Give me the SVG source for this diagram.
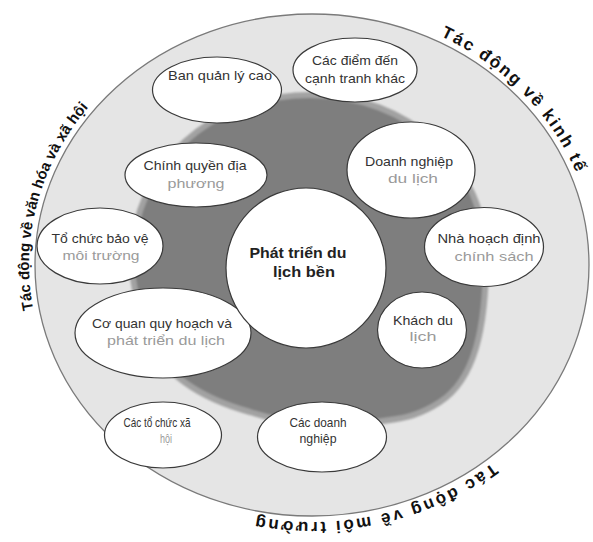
<svg xmlns="http://www.w3.org/2000/svg" width="593" height="542" viewBox="0 0 593 542">
<defs>
<style>
.node{fill:#fff;stroke:#3a3a3a;stroke-width:1.2}
.t{font-family:"Liberation Sans",Arial,sans-serif;font-size:13.5px;fill:#333;text-anchor:middle}
.g{fill:#9a9a9a}
.c{font-family:"Liberation Sans",Arial,sans-serif;font-size:15px;font-weight:bold;fill:#222;text-anchor:middle}
.arc{font-family:"Liberation Sans",Arial,sans-serif;font-weight:bold;fill:#111}
</style>
<filter id="soft" x="-10%" y="-10%" width="120%" height="120%"><feGaussianBlur stdDeviation="0.8"/></filter>
<path id="pTop" d="M 440.5,36 A 283 257 0 0 1 578,353"/>
<path id="pLeft" d="M 33.3,309.6 A 283 257 0 0 1 170.5,42.4"/>
<path id="pBot" d="M 492.3,463.1 A 283 257 0 0 1 130.1,461.9"/>
</defs>
<rect width="593" height="542" fill="#fff"/>
<g id="background">
<ellipse cx="312" cy="265" rx="277" ry="251" fill="#e5e5e5" stroke="#7a7a7a" stroke-width="1.3"/>
<path d="M 310,95 C 408,95 486,165 486,258 C 486,330 474,380 440,402 C 420,415 405,418 390,420 C 340,428 290,425 250,412 C 200,398 165,375 150,340 C 140,312 132,288 132,262 C 132,165 212,95 310,95 Z" fill="#7e7e7e" stroke="#a2a2a2" stroke-width="6" filter="url(#soft)"/>
</g>
<g id="connectors"/>
<g id="labels">
<text class="arc" font-size="17" letter-spacing="2.1"><textPath href="#pTop">Tác động về kinh tế</textPath></text>
<text class="arc" font-size="15"><textPath href="#pLeft">Tác động về văn hóa và xã hội</textPath></text>
<text class="arc" font-size="17" letter-spacing="2.5"><textPath href="#pBot">Tác động về môi trường</textPath></text>
</g>
<g id="n-ban-quan-ly">
<ellipse class="node" cx="217" cy="90" rx="64.5" ry="33"/>
<text class="t" x="220" y="80" textLength="104" lengthAdjust="spacingAndGlyphs">Ban quản lý cao</text>
</g>
<g id="n-cac-diem-den">
<ellipse class="node" cx="355" cy="70" rx="62" ry="32"/>
<text class="t" x="355" y="65" textLength="86" lengthAdjust="spacingAndGlyphs">Các điểm đến</text>
<text class="t" x="355" y="83" textLength="100" lengthAdjust="spacingAndGlyphs">cạnh tranh khác</text>
</g>
<g id="n-chinh-quyen">
<ellipse class="node" cx="196" cy="175" rx="71" ry="32"/>
<text class="t" x="195" y="170" textLength="103" lengthAdjust="spacingAndGlyphs">Chính quyền địa</text>
<text class="t g" x="196" y="188" textLength="57" lengthAdjust="spacingAndGlyphs">phương</text>
</g>
<g id="n-doanh-nghiep-du-lich">
<ellipse class="node" cx="411" cy="170" rx="64" ry="48"/>
<text class="t" x="409" y="166" textLength="88" lengthAdjust="spacingAndGlyphs">Doanh nghiệp</text>
<text class="t g" x="413" y="183" textLength="50" lengthAdjust="spacingAndGlyphs">du lịch</text>
</g>
<g id="n-nha-hoach-dinh">
<ellipse class="node" cx="484" cy="247" rx="59.5" ry="39.5"/>
<text class="t" x="489" y="243" textLength="103" lengthAdjust="spacingAndGlyphs">Nhà hoạch định</text>
<text class="t g" x="494" y="261" textLength="79" lengthAdjust="spacingAndGlyphs">chính sách</text>
</g>
<g id="n-khach-du-lich">
<ellipse class="node" cx="422" cy="330" rx="44.5" ry="38"/>
<text class="t" x="423" y="325" textLength="60" lengthAdjust="spacingAndGlyphs">Khách du</text>
<text class="t g" x="423" y="341" textLength="27" lengthAdjust="spacingAndGlyphs">lịch</text>
</g>
<g id="n-cac-doanh-nghiep">
<ellipse class="node" cx="322" cy="437" rx="64.5" ry="35"/>
<text class="t" x="318" y="427" textLength="57" lengthAdjust="spacingAndGlyphs">Các doanh</text>
<text class="t" x="318" y="443" textLength="37" lengthAdjust="spacingAndGlyphs">nghiệp</text>
</g>
<g id="n-cac-to-chuc-xa-hoi">
<ellipse class="node" cx="163" cy="435" rx="58.5" ry="33"/>
<text class="t" x="157" y="427" textLength="67" lengthAdjust="spacingAndGlyphs">Các tổ chức xã</text>
<text class="t g" x="166" y="443" textLength="12" lengthAdjust="spacingAndGlyphs">hội</text>
</g>
<g id="n-co-quan-quy-hoach">
<ellipse class="node" cx="163" cy="333" rx="88" ry="45"/>
<text class="t" x="162" y="328" textLength="140" lengthAdjust="spacingAndGlyphs">Cơ quan quy hoạch và</text>
<text class="t g" x="166" y="345" textLength="118" lengthAdjust="spacingAndGlyphs">phát triển du lịch</text>
</g>
<g id="n-to-chuc-bao-ve">
<ellipse class="node" cx="100" cy="246" rx="63" ry="38"/>
<text class="t" x="100" y="243" textLength="97" lengthAdjust="spacingAndGlyphs">Tổ chức bảo vệ</text>
<text class="t g" x="101" y="260" textLength="77" lengthAdjust="spacingAndGlyphs">môi trường</text>
</g>
<g id="n-center">
<circle class="node" cx="306" cy="268" r="80"/>
<text class="c" x="298" y="258" textLength="97" lengthAdjust="spacingAndGlyphs">Phát triển du</text>
<text class="c" x="304" y="277" textLength="62" lengthAdjust="spacingAndGlyphs">lịch bền</text>
</g>
</svg>
